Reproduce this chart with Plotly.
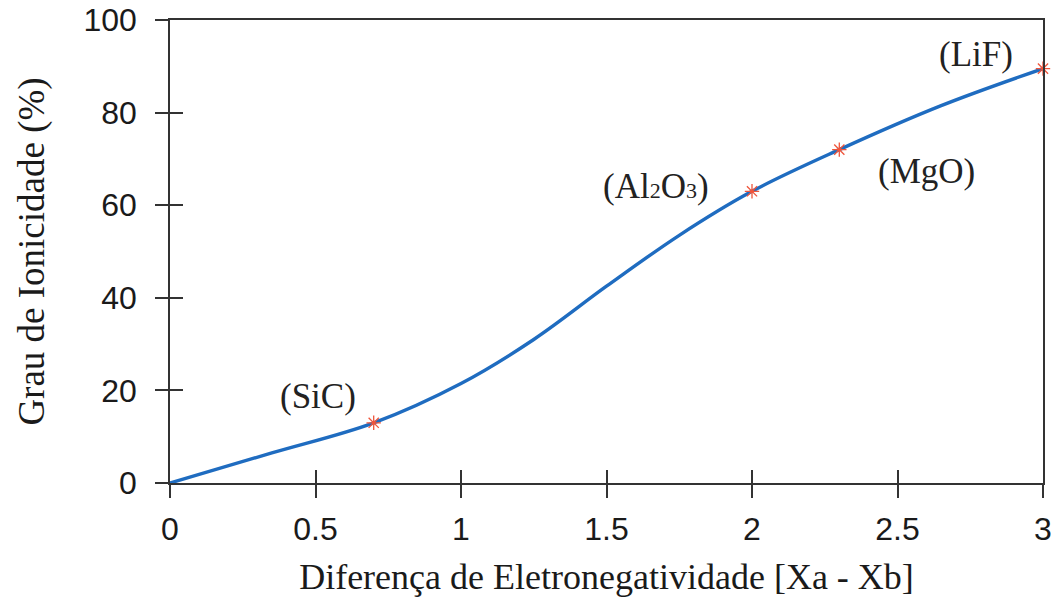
import plotly.graph_objects as go

# Curve
curve_x = [0, 0.35, 0.7, 1.0, 1.25, 1.5, 1.75, 2.0, 2.3, 2.65, 3.0]
curve_y = [0, 6.5, 13, 21.5, 31, 42.5, 53.5, 63, 72, 81.5, 89.5]

# Compounds marked on the curve
mark_x = [0.7, 2.0, 2.3, 3.0]
mark_y = [13, 63, 72, 89.5]

# Labels
label_text = ["(SiC)", "(Al<span style='font-size:22px'>2</span>O<span style='font-size:22px'>3</span>)", "(MgO)", "(LiF)"]
label_x = [0.51, 1.67, 2.6, 2.77]
label_y = [18.6, 64, 67.2, 92.5]

x_ticks = [0, 0.5, 1, 1.5, 2, 2.5, 3]
y_ticks = [0, 20, 40, 60, 80, 100]

fig = go.Figure()
fig.add_trace(go.Scatter(x=curve_x, y=curve_y, mode="lines",
                         line=dict(color="#1f6cc0", width=3.4, shape="spline", smoothing=1.0),
                         hoverinfo="skip", showlegend=False))
fig.add_trace(go.Scatter(x=mark_x, y=mark_y, mode="markers",
                         marker=dict(symbol="asterisk-open", size=12, line=dict(color="#e04545", width=1.3)),
                         showlegend=False, cliponaxis=False))
# invisible trace for the inner tick axes
fig.add_trace(go.Scatter(x=[0], y=[0], xaxis="x2", yaxis="y2", mode="markers",
                         marker=dict(opacity=0), hoverinfo="skip", showlegend=False))

for t, xx, yy in zip(label_text, label_x, label_y):
    fig.add_annotation(x=xx, y=yy, text=t, showarrow=False,
                       font=dict(family="Liberation Serif", size=35, color="#222"))

tick_style = dict(tickcolor="#333", tickwidth=1.5, ticklen=13, showgrid=False, zeroline=False,
                  automargin=False)

fig.update_layout(
    width=1052, height=608,
    margin=dict(l=170, r=9, t=20, b=125),
    paper_bgcolor="white", plot_bgcolor="white",
    xaxis=dict(range=[0, 3], tickvals=x_ticks, ticks="outside", showline=True, mirror=True,
               linecolor="#333", linewidth=1.5,
               tickfont=dict(family="Liberation Sans", size=32, color="#1a1a1a"),
               ticklabelstandoff=4,
               title=dict(text="Diferença de Eletronegatividade [Xa - Xb]",
                          font=dict(family="Liberation Serif", size=36, color="#1a1a1a"), standoff=18),
               **tick_style),
    yaxis=dict(range=[0, 100], tickvals=y_ticks, ticks="outside", showline=True, mirror=True,
               linecolor="#333", linewidth=1.5,
               tickfont=dict(family="Liberation Sans", size=32, color="#1a1a1a"),
               ticklabelstandoff=12,
               title=dict(text="Grau de Ionicidade (%)",
                          font=dict(family="Liberation Serif", size=37, color="#1a1a1a"), standoff=28),
               **tick_style),
    xaxis2=dict(range=[0, 3], tickvals=x_ticks, ticks="inside", showticklabels=False,
                overlaying="x", anchor="y2", side="bottom", showline=False, **tick_style),
    yaxis2=dict(range=[0, 100], tickvals=y_ticks, ticks="inside", showticklabels=False,
                overlaying="y", anchor="x2", side="left", showline=False, **tick_style),
)

fig.write_html("out.html")
